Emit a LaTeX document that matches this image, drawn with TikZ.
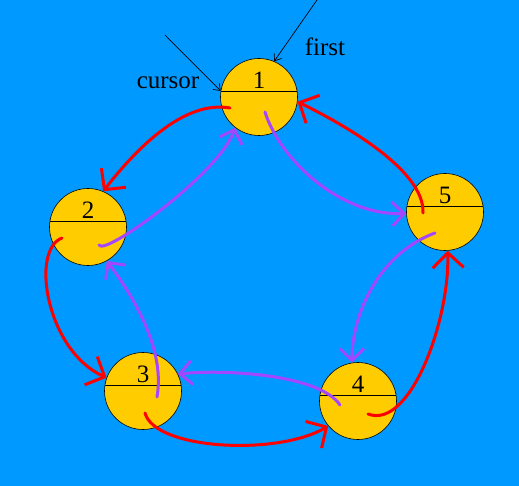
\documentclass[tikz,border=0pt]{standalone}
\usepackage{fontspec}
\setmainfont{Liberation Serif}
\usetikzlibrary{arrows.meta}
\definecolor{bgblue}{RGB}{0,153,255}
\definecolor{nodeyellow}{RGB}{255,204,0}
\definecolor{linkpurple}{RGB}{165,70,255}

\begin{document}
\begin{tikzpicture}[x=1pt,y=-1pt,
				elem/.style={circle, draw, fill=nodeyellow, minimum size=77pt, inner sep=0pt, line width=0.6pt,
					path picture={\draw[line width=0.6pt] ([yshift=6pt]path picture bounding box.west) -- ([yshift=6pt]path picture bounding box.east);},
					label={[font=\fontsize{25}{30}\selectfont, yshift=17pt]center:#1}},
				lbl/.style={font=\fontsize{25}{30}\selectfont},
				nextarrow/.style={-{Straight Barb[length=15pt,width=31pt]}, red, line width=3pt, line cap=round},
				prevarrow/.style={-{Straight Barb[length=12pt,width=24pt]}, linkpurple, line width=3pt, line cap=round},
				ptrarrow/.style={-{Straight Barb[length=6pt,width=9pt]}, black, line width=0.7pt}
			]
			\useasboundingbox (0,0) rectangle (519,486);
			\fill[bgblue] (0,0) rectangle (519,486);

			% List elements
			\node[elem=1] (n1) at (259,97) {};
			\node[elem=2] (n2) at (88,227) {};
			\node[elem=3] (n3) at (143,391) {};
			\node[elem=4] (n4) at (358,401) {};
			\node[elem=5] (n5) at (445,212) {};

			% Pointer names
			\node[lbl] (cursorlbl) at (168,83) {cursor};
			\node[lbl] (firstlbl) at (325,47) {first};
			\coordinate (cursortail) at (165,35);
			\coordinate (firsttail) at (317,0);

			% Link starts inside the elements
			\coordinate (r1) at ([shift={(-29,11)}]n1.center);
			\coordinate (r2) at ([shift={(-26,11)}]n2.center);
			\coordinate (r3) at ([shift={(2,22)}]n3.center);
			\coordinate (r4) at ([shift={(10,13)}]n4.center);
			\coordinate (r5) at ([shift={(-22,1)}]n5.center);
			\coordinate (p1) at ([shift={(6,15)}]n1.center);
			\coordinate (p2) at ([shift={(11,18)}]n2.center);
			\coordinate (p3) at ([shift={(14,6)}]n3.center);
			\coordinate (p4) at ([shift={(-18,4)}]n4.center);
			\coordinate (p5) at ([shift={(-10,21)}]n5.center);

			% Next links
			\draw[nextarrow] (r1) .. controls +(-45,-8) and +(35,-45) .. (n2.67);
			\draw[nextarrow] (r2) .. controls +(-32,12) and +(-60,-27) .. (n3.160);
			\draw[nextarrow] (r3) .. controls +(10,37) and +(-50,30) .. (n4.220);
			\draw[nextarrow] (r4) .. controls +(42,16) and +(2,70) .. (n5.274);
			\draw[nextarrow] (r5) .. controls +(2,-43) and +(45,22) .. (n1.353);

			% Previous links
			\draw[prevarrow] (p1) .. controls +(15,48) and +(-65,3) .. (n5.182);
			\draw[prevarrow] (p5) .. controls +(-55,20) and +(0,-50) .. (n4.99);
			\draw[prevarrow] (p4) .. controls +(-20,-30) and +(50,-5) .. (n3.26);
			\draw[prevarrow] (p3) .. controls +(8,-45) and +(30,40) .. (n2.299);
			\draw[prevarrow] (p2) .. controls +(5,12) and +(-15,45) .. (n1.232);

			% Pointers
			\draw[ptrarrow] (cursortail) -- (n1.171);
			\draw[ptrarrow] (firsttail) -- (n1.67);
		\end{tikzpicture}
\end{document}
